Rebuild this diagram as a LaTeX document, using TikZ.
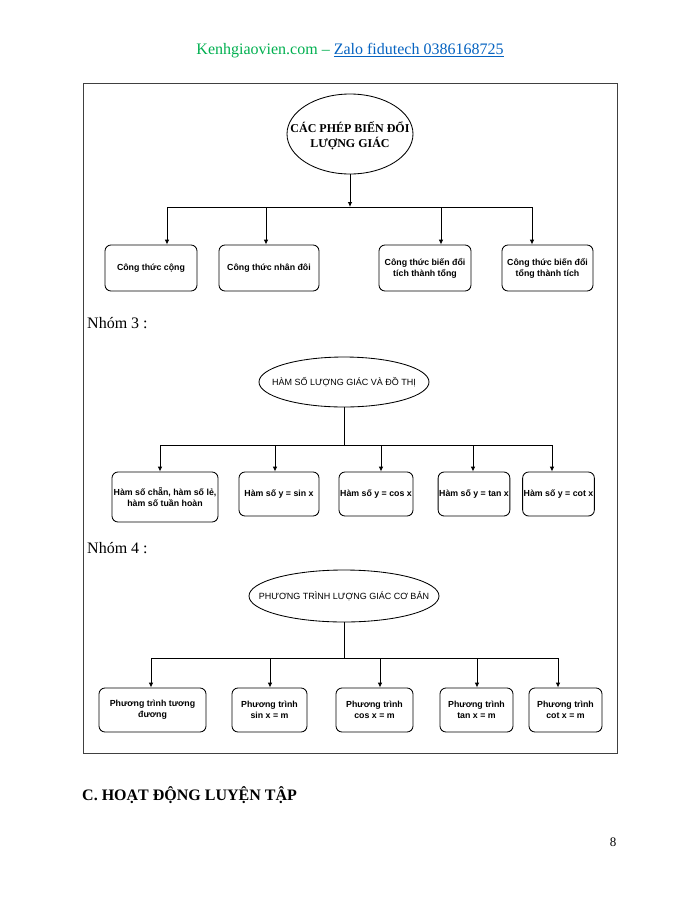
\documentclass[tikz,border=0pt]{standalone}
\usepackage{fontspec}
\setmainfont{Liberation Serif}
\newfontfamily\arialf{Liberation Sans}
\usetikzlibrary{shapes.geometric,arrows.meta}
\definecolor{hdrgreen}{HTML}{00B050}
\definecolor{hdrblue}{HTML}{0563C1}
\tikzset{
  box/.style={draw, rounded corners=6pt, line width=0.85pt, align=center,
    font=\arialf\bfseries\fontsize{8.8}{11}\selectfont, inner sep=1pt},
  oval/.style={draw, ellipse, line width=0.85pt, inner sep=0pt},
  ovaltext/.style={align=center, inner sep=0pt, font=\arialf\fontsize{9}{11}\selectfont},
  arr/.style={line width=0.85pt, -{Latex[length=5pt,width=4.5pt]}},
  ln/.style={line width=0.85pt},
  body/.style={inner sep=0pt, font=\fontsize{16}{19}\selectfont},
}
\begin{document}
\begin{tikzpicture}[x=1pt,y=-1pt]
\useasboundingbox (0,0) rectangle (700,906);
\fill[white] (0,0) rectangle (700,906);

% header
\node[body] (hdr) at (350,51) {\color{hdrgreen}Kenhgiaovien.com – \color{hdrblue}\underline{Zalo fidutech 0386168725}};

% frame
\draw[line width=0.8pt, black!75] (83,83) rectangle (617,753);

% ---------- diagram 1
\node[oval, minimum width=126pt, minimum height=80pt] (e1) at (350,134) {};
\node[align=center, inner sep=0pt, font=\bfseries\fontsize{12}{15}\selectfont] (e1t) at (350,136) {CÁC PHÉP BIẾN ĐỔI\\LƯỢNG GIÁC};

\node[box, minimum width=92pt, minimum height=46pt] (b1) at (151,268) {Công thức cộng};
\node[box, minimum width=100pt, minimum height=46pt] (b2) at (269,268) {Công thức nhân đôi};
\node[box, minimum width=92pt, minimum height=46pt] (b3) at (425,268) {Công thức biến đổi\\tích thành tổng};
\node[box, minimum width=91pt, minimum height=46pt] (b4) at (547.5,268) {Công thức biến đổi\\tổng thành tích};

\coordinate (j1) at (167,207);
\coordinate (j2) at (266,207);
\coordinate (j3) at (441,207);
\coordinate (j4) at (532,207);
\draw[arr] (e1) -- (e1 |- j1);
\draw[ln] (j1) -- (j4);
\draw[arr] (j1) -- (j1 |- b1.north);
\draw[arr] (j2) -- (j2 |- b2.north);
\draw[arr] (j3) -- (j3 |- b3.north);
\draw[arr] (j4) -- (j4 |- b4.north);

\node[body, anchor=base west] (n3) at (87,328) {Nhóm 3 :};

% ---------- diagram 2
\node[oval, minimum width=170pt, minimum height=50pt] (e2) at (344,382) {};
\node[ovaltext] (e2t) at (e2) {HÀM SỐ LƯỢNG GIÁC VÀ ĐỒ THỊ};

\node[box, minimum width=106pt, minimum height=50pt] (c1) at (165,497) {Hàm số chẵn, hàm số lẻ,\\hàm số tuần hoàn};
\node[box, minimum width=80pt, minimum height=44pt] (c2) at (279,494) {Hàm số y = sin x};
\node[box, minimum width=74pt, minimum height=44pt] (c3) at (376,494) {Hàm số y = cos x};
\node[box, minimum width=70pt, minimum height=44pt] (c4) at (474,494) {Hàm số y = tan x};
\node[box, minimum width=71pt, minimum height=44pt] (c5) at (558.5,494) {Hàm số y = cot x};

\coordinate (k1) at (160,445);
\coordinate (k2) at (275,445);
\coordinate (k3) at (381,445);
\coordinate (k4) at (473,445);
\coordinate (k5) at (552,445);
\draw[ln] (e2) -- (e2 |- k1);
\draw[ln] (k1) -- (k5);
\draw[arr] (k1) -- (k1 |- c1.north);
\draw[arr] (k2) -- (k2 |- c2.north);
\draw[arr] (k3) -- (k3 |- c3.north);
\draw[arr] (k4) -- (k4 |- c4.north);
\draw[arr] (k5) -- (k5 |- c5.north);

\node[body, anchor=base west] (n4) at (87,553) {Nhóm 4 :};

% ---------- diagram 3
\node[oval, minimum width=190pt, minimum height=52pt] (e3) at (344,596) {};
\node[ovaltext] (e3t) at (e3) {PHƯƠNG TRÌNH LƯỢNG GIÁC CƠ BẢN};

\node[box, minimum width=107pt, minimum height=44pt] (d1) at (152.5,710) {Phương trình tương\\đương};
\node[box, minimum width=75pt, minimum height=44pt] (d2) at (269.5,710) {Phương trình\\sin x = m};
\node[box, minimum width=77pt, minimum height=44pt] (d3) at (374.5,710) {Phương trình\\cos x = m};
\node[box, minimum width=73pt, minimum height=44pt] (d4) at (476.5,710) {Phương trình\\tan x = m};
\node[box, minimum width=73pt, minimum height=44pt] (d5) at (565.5,710) {Phương trình\\cot x = m};

\coordinate (m1) at (151,658);
\coordinate (m2) at (270,658);
\coordinate (m3) at (380,658);
\coordinate (m4) at (477,658);
\coordinate (m5) at (558,658);
\draw[ln] (e3) -- (e3 |- m1);
\draw[ln] (m1) -- (m5);
\draw[arr] (m1) -- (m1 |- d1.north);
\draw[arr] (m2) -- (m2 |- d2.north);
\draw[arr] (m3) -- (m3 |- d3.north);
\draw[arr] (m4) -- (m4 |- d4.north);
\draw[arr] (m5) -- (m5 |- d5.north);

% footer text
\node[body, anchor=base west, font=\bfseries\fontsize{16}{19}\selectfont] (sec) at (82,800) {C. HOẠT ĐỘNG LUYỆN TẬP};
\node[inner sep=0pt, font=\fontsize{13}{15}\selectfont] (pg) at (613,842) {8};
\end{tikzpicture}
\end{document}
